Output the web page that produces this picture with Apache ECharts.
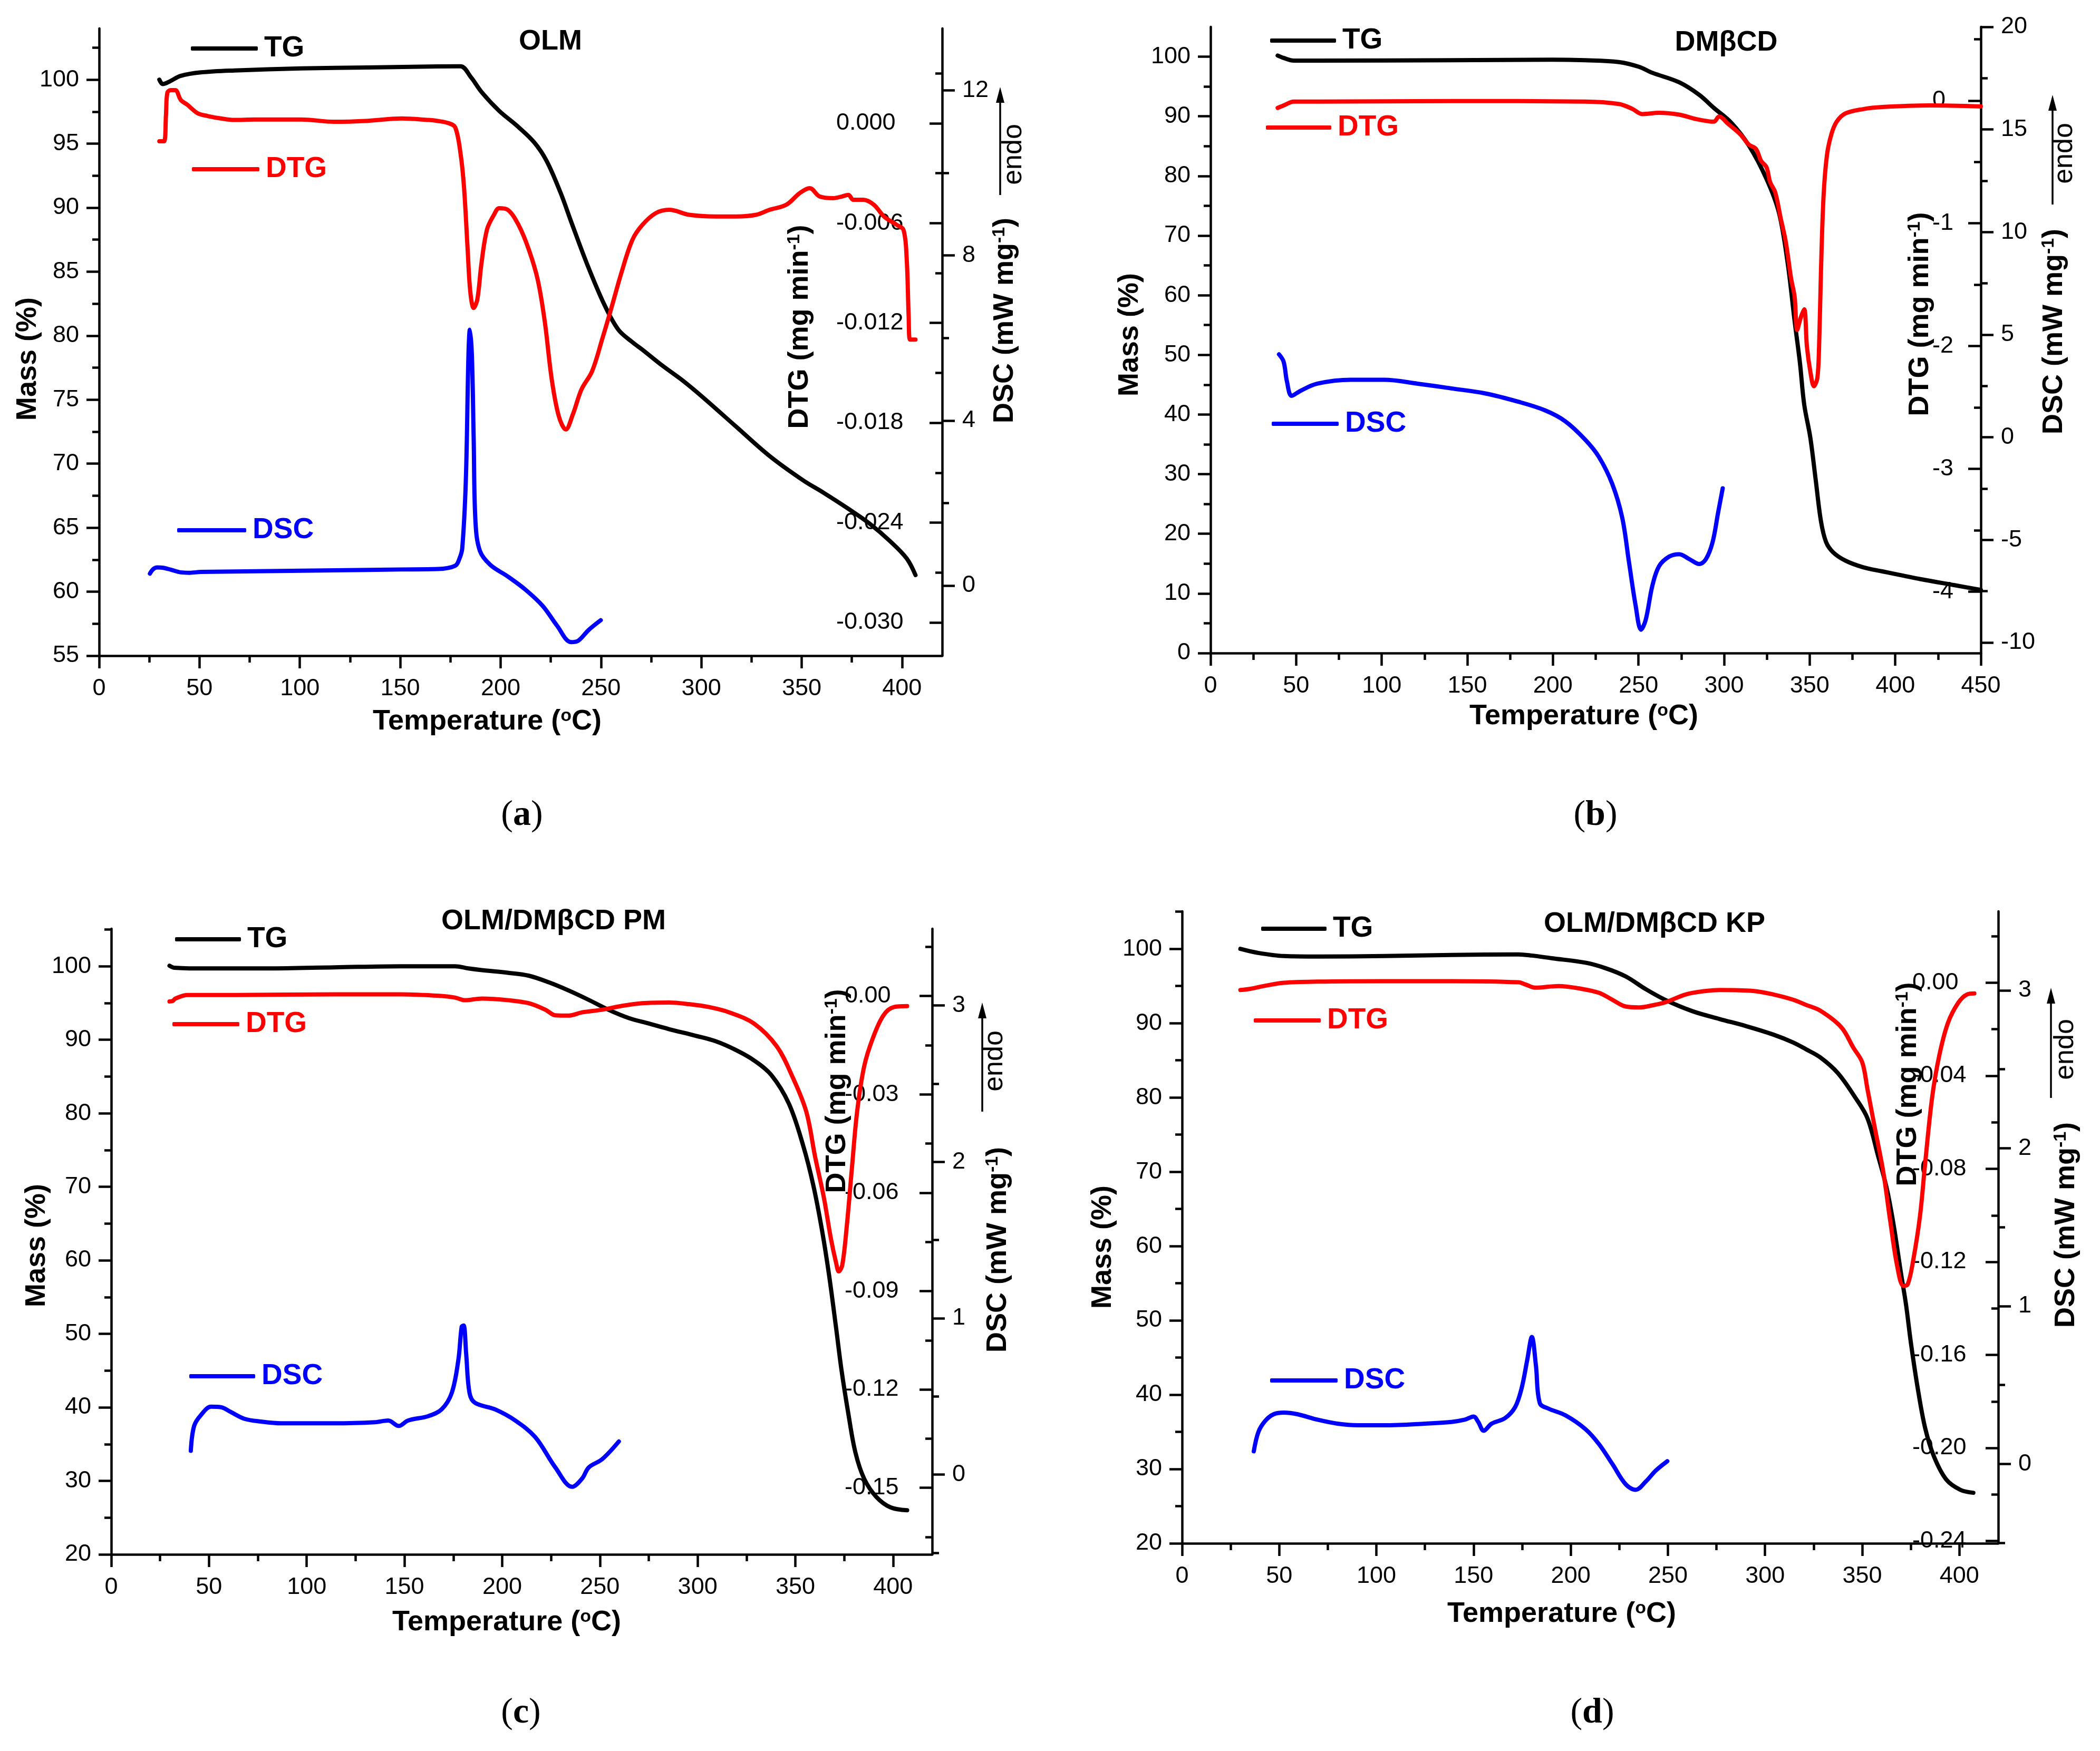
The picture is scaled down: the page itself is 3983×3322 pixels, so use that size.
<!DOCTYPE html>
<html>
<head>
<meta charset="utf-8">
<title>TG / DTG / DSC</title>
<script src="https://cdn.jsdelivr.net/npm/echarts@6/dist/echarts.min.js"></script>
<style>
  html, body { margin: 0; padding: 0; background: #fff; }
  #main { width: 3983px; height: 3322px; }
</style>
</head>
<body>
<div id="main"></div>
<script type="text/javascript">
// ---- (a) OLM : [temperature, value]
var olmTG = [[30,100.0],[31.7,99.66],[35,99.85],[40.7,100.3],[50.7,100.57],[67.3,100.72],[100.7,100.88],[134,100.95],[168.7,101.04],[180,101.05],[185.3,100.18],[190.5,99.04],[199.3,97.56],[208,96.42],[216.7,95.11],[222.9,93.66],[229.8,91.2],[235.1,88.93],[242.9,85.67],[251.7,82.42],[258.7,80.46],[265.7,79.49],[270.7,78.9],[280.7,77.65],[290.7,76.5],[300.7,75.2],[317.3,72.9],[334,70.6],[350.7,68.7],[360.7,67.75],[374,66.4],[384,65.3],[394,63.95],[402.3,62.6],[406.7,61.3]];
var olmDTG = [[30,-0.00108],[32.3,-0.00108],[33.3,0.0005],[34,0.00184],[35.7,0.00199],[38,0.00199],[40.7,0.0014],[44,0.00111],[49,0.00061],[54,0.00044],[60.7,0.00029],[67.3,0.0002],[77.3,0.00023],[100.7,0.00023],[117.3,0.00009],[134,0.00015],[150.7,0.00029],[164,0.0002],[168.7,0.00014],[174,0.00001],[177.4,-0.00024],[180.1,-0.00186],[181.8,-0.00387],[183.6,-0.0076],[184.9,-0.0101],[186.6,-0.0111],[188.4,-0.0106],[190.5,-0.0084],[193.2,-0.0064],[196.7,-0.0055],[199.3,-0.0051],[203.6,-0.0052],[208.9,-0.0061],[214.1,-0.0076],[218.5,-0.0094],[222,-0.0119],[225.5,-0.0154],[229,-0.0176],[232.5,-0.0184],[236,-0.0175],[240.3,-0.016],[245.6,-0.0149],[250.8,-0.0129],[255.2,-0.0111],[260.4,-0.0089],[265.7,-0.007],[270.7,-0.0061],[277.3,-0.0054],[284,-0.0052],[294,-0.0055],[307.3,-0.0056],[317.3,-0.0056],[327.3,-0.0055],[334,-0.0052],[342.3,-0.0049],[349,-0.0042],[354,-0.0039],[359,-0.0044],[365.7,-0.0045],[370,-0.0044],[373.3,-0.0043],[375.7,-0.0046],[380.7,-0.0046],[386,-0.0049],[391,-0.0056],[397.3,-0.0061],[400.7,-0.0064],[402.3,-0.0081],[403.3,-0.0116],[404,-0.013],[406.7,-0.013]];
var olmDSC = [[25.3,0.29],[27,0.4],[29,0.44],[32,0.43],[36,0.38],[40.7,0.32],[45,0.31],[50.7,0.33],[84,0.35],[117.3,0.37],[150.7,0.39],[168.7,0.4],[177.4,0.48],[179.5,0.65],[180.9,0.9],[182.7,2.56],[184,5.59],[184.7,6.2],[185.7,5.59],[186.6,3.56],[187.5,1.54],[189.7,0.84],[194.9,0.5],[203.6,0.22],[212.4,-0.1],[221.1,-0.5],[228.1,-0.97],[235.1,-1.37],[238.6,-1.34],[243.8,-1.08],[249.9,-0.84]];

// ---- (b) DMbCD
var cdTG = [[39.2,100.2],[42.7,99.8],[48.6,99.35],[62.3,99.35],[140.6,99.4],[199.3,99.5],[218.9,99.4],[238.5,99.1],[250.3,98.3],[258.1,97.3],[273.8,95.7],[285.5,93.6],[294.1,91.4],[304.3,88.9],[314.5,85.1],[324.8,79.5],[332,73.9],[337.1,65.5],[341.2,55.7],[344.3,48.7],[346.8,41.7],[350.4,36.1],[353.5,29.1],[356.6,22.1],[359.6,18.6],[363.7,16.9],[370.9,15.5],[381.1,14.4],[392.4,13.7],[414.8,12.4],[434.3,11.4],[450,10.6]];
var cdDTG = [[39.2,-0.06],[42.7,-0.04],[48.6,-0.008],[62.3,-0.008],[140.6,-0.004],[218.9,-0.008],[238.5,-0.028],[246.3,-0.067],[252.2,-0.11],[262,-0.1],[273.8,-0.115],[283.6,-0.151],[291.4,-0.17],[294.1,-0.172],[297.1,-0.13],[302.3,-0.189],[309.4,-0.274],[314.5,-0.359],[318.6,-0.393],[321.7,-0.493],[324.8,-0.544],[326.9,-0.664],[329.9,-0.749],[333,-0.953],[336.1,-1.155],[339.1,-1.445],[341.2,-1.597],[342.7,-1.868],[344.8,-1.767],[346.8,-1.7],[348.4,-2.004],[350.4,-2.208],[352.5,-2.327],[354.5,-2.259],[355.5,-2.004],[356.6,-1.394],[358.1,-0.783],[360.1,-0.444],[362.7,-0.274],[365.8,-0.172],[370.9,-0.105],[381.1,-0.07],[392.4,-0.053],[420,-0.04],[450,-0.048]];
var cdDSC = [[40,4.04],[42.7,3.68],[44.6,2.73],[47.4,2.02],[52.5,2.26],[62.3,2.61],[81.9,2.8],[101.4,2.8],[121,2.61],[140.6,2.38],[160.2,2.14],[179.8,1.73],[195.4,1.31],[207.2,0.78],[218.9,-0.12],[226.8,-0.95],[234.6,-2.26],[240.5,-3.92],[244.4,-6.06],[248.3,-8.19],[251.5,-9.38],[254.2,-8.91],[258.1,-7.24],[262,-6.29],[267.9,-5.82],[273.8,-5.7],[279.7,-5.94],[285.5,-6.18],[289.4,-5.94],[293.3,-5.11],[296.5,-3.68],[299.2,-2.49]];

// ---- (c) OLM/DMbCD PM
var pmTG = [[29.8,100.07],[32.2,99.8],[45.9,99.7],[80.1,99.7],[114.3,99.85],[148.5,100],[175.9,100],[182.7,99.7],[189.6,99.47],[203.3,99.1],[213.5,98.72],[223.8,97.82],[234,96.7],[244.3,95.42],[254.5,94.07],[264.8,92.95],[275.1,92.2],[285.4,91.44],[299,90.54],[309.3,89.79],[319.6,88.6],[328.8,87.2],[337.7,85.2],[346.7,81.3],[353.9,75.7],[359.2,70.2],[363.7,64.0],[367.3,57.9],[370.9,50.7],[373.6,45.1],[377.2,39.0],[380.7,33.9],[385.2,30.3],[391.5,27.8],[398.7,26.4],[407.2,26.0]];
var pmDTG = [[29.8,-0.0017],[31.5,-0.0015],[32.8,-0.0008],[39,0.0003],[63,0.0003],[114.3,0.0005],[148.5,0.0005],[169,0],[175.9,-0.0005],[181,-0.0013],[189.6,-0.0008],[203.3,-0.0013],[213.5,-0.0022],[222.1,-0.0042],[227.2,-0.0059],[234,-0.006],[240.9,-0.005],[251.2,-0.0042],[261.4,-0.003],[271.7,-0.0022],[285.4,-0.002],[295.6,-0.0025],[305.9,-0.0034],[316.2,-0.005],[328.8,-0.0084],[340.4,-0.0153],[348.5,-0.0246],[355.6,-0.0353],[360.1,-0.049],[364.6,-0.0615],[368.2,-0.074],[370.9,-0.0815],[372.2,-0.084],[374,-0.0821],[376.3,-0.0703],[378.9,-0.0528],[381.6,-0.0353],[385.2,-0.0215],[389.7,-0.0128],[395.1,-0.0059],[400.4,-0.0034],[407.2,-0.0031]];
var pmDSC = [[40.7,0.152],[42.4,0.311],[45.9,0.381],[51,0.434],[56.1,0.431],[61.2,0.4],[68.1,0.357],[76.6,0.339],[86.9,0.328],[114.3,0.328],[134.8,0.335],[141.7,0.346],[147.1,0.311],[151.9,0.346],[162.2,0.374],[169,0.417],[174.2,0.522],[177.6,0.734],[179.3,0.946],[180.3,0.953],[181.6,0.77],[183.3,0.522],[186.1,0.459],[196.4,0.417],[206.7,0.346],[216.9,0.24],[227.2,0.046],[235.8,-0.078],[240.9,-0.025],[244.3,0.046],[251.2,0.099],[259.7,0.212]];

// ---- (d) OLM/DMbCD KP
var kpTG = [[30,100],[38.6,99.48],[52.4,99.03],[69.7,98.96],[104.1,99.03],[138.6,99.18],[173.1,99.26],[180,99.1],[190.3,98.74],[207.6,98.14],[217.9,97.4],[228.3,96.29],[238.6,94.58],[249,93.09],[262.8,91.6],[276.6,90.56],[290.3,89.6],[304.1,88.48],[314.5,87.4],[321,86.5],[328.4,85.4],[337.4,83.3],[346.4,80.0],[352.7,77.2],[358.1,72.2],[362.6,67.8],[366.2,62.8],[369.8,56.6],[372.5,52.2],[375.2,46.7],[378.8,40.5],[382.4,35.5],[386.9,31.7],[393.2,28.6],[400.5,27.2],[407.2,26.8]];
var kpDTG = [[30,-0.0031],[35.2,-0.0026],[42.1,-0.0014],[52.4,0],[69.7,0.0005],[104.1,0.0007],[138.6,0.0007],[173.1,0.0002],[176.6,-0.0007],[181.7,-0.0021],[193.8,-0.0014],[204.1,-0.0024],[214.5,-0.0043],[221.4,-0.0073],[228.3,-0.0102],[235.2,-0.0106],[242.1,-0.0097],[249,-0.0083],[259.3,-0.005],[269.7,-0.0035],[276.6,-0.0031],[293.8,-0.0035],[304.1,-0.005],[314.5,-0.0073],[321,-0.0095],[328.4,-0.012],[339.2,-0.0191],[345.5,-0.028],[350,-0.0342],[352.7,-0.0457],[356.3,-0.0616],[360.8,-0.0811],[364.4,-0.1023],[368,-0.1218],[371.2,-0.1303],[373.4,-0.1297],[376.1,-0.12],[379.7,-0.1005],[382.4,-0.0775],[386,-0.0492],[389.6,-0.0315],[394.1,-0.0173],[399.5,-0.0085],[404,-0.005],[407.7,-0.0046]];
var kpDSC = [[36.9,0.08],[39.3,0.203],[42.8,0.273],[47.2,0.315],[52.4,0.325],[59.3,0.315],[69.7,0.28],[80,0.255],[90.3,0.245],[104.1,0.245],[124.8,0.255],[138.6,0.266],[145.5,0.28],[150,0.3],[152.4,0.266],[155.2,0.21],[159.3,0.255],[166.2,0.29],[171.4,0.36],[174.8,0.483],[177.6,0.657],[180,0.804],[182.1,0.622],[184.1,0.385],[188.6,0.35],[197.2,0.308],[207.6,0.22],[214.5,0.126],[221.4,0],[228.3,-0.129],[233.4,-0.164],[238.6,-0.112],[243.8,-0.042],[249.7,0.017]];

// ---- tick labels
var tempTicks420 = [0,50,100,150,200,250,300,350,400];
var tempMinor420 = [25,75,125,175,225,275,325,375];
var tempTicks450 = [0,50,100,150,200,250,300,350,400,450];
var tempMinor450 = [25,75,125,175,225,275,325,375,425];

var olmMassTicks = [55,60,65,70,75,80,85,90,95,100];
var olmMassMinor = [57.5,62.5,67.5,72.5,77.5,82.5,87.5,92.5,97.5,102.5];
var olmDtgTicks = [0,-0.006,-0.012,-0.018,-0.024,-0.030];
var olmDtgMinor = [0.003,-0.003,-0.009,-0.015,-0.021,-0.027];
var olmDscTicks = [0,4,8,12];
var olmDscMinor = [2,6,10];

var cdMassTicks = [0,10,20,30,40,50,60,70,80,90,100];
var cdMassMinor = [5,15,25,35,45,55,65,75,85,95];
var cdDtgTicks = [0,-1,-2,-3,-4];
var cdDtgMinor = [0.5,-0.5,-1.5,-2.5,-3.5];
var cdDscTicks = [-10,-5,0,5,10,15,20];
var cdDscMinor = [-7.5,-2.5,2.5,7.5,12.5,17.5];

var mixMassTicks = [20,30,40,50,60,70,80,90,100];
var mixMassMinor = [25,35,45,55,65,75,85,95,105];
var pmDtgTicks = [0,-0.03,-0.06,-0.09,-0.12,-0.15];
var pmDtgMinor = [0.015,-0.015,-0.045,-0.075,-0.105,-0.135,-0.165];
var kpDtgTicks = [0,-0.04,-0.08,-0.12,-0.16,-0.20,-0.24];
var kpDtgMinor = [0.02,-0.02,-0.06,-0.10,-0.14,-0.18,-0.22];
var mixDscTicks = [0,1,2,3];
var mixDscMinor = [-0.5,0.5,1.5,2.5];

var FONT = "'Liberation Sans', Arial, sans-serif";
var SERIF = "'Liberation Serif', 'Times New Roman', serif";
var BLACK = '#000000', RED = '#ff0000', BLUE = '#0000ff';

var panels = [
  { grid: {left: 188, top: 54, width: 1599, height: 1190}, xMax: 420, xTicks: tempTicks420, xMinor: tempMinor420,
    mass: [55, 104], massTicks: olmMassTicks, massMinor: olmMassMinor,
    dtg: [-0.032, 0.0057], dtgTicks: olmDtgTicks, dtgMinor: olmDtgMinor, dtgDigits: 3, dtgMargin: 201,
    dsc: [-1.7, 13.5], dscTicks: olmDscTicks, dscMinor: olmDscMinor,
    tg: olmTG, dtgData: olmDTG, dscData: olmDSC },
  { grid: {left: 2296, top: 51, width: 1461, height: 1188}, xMax: 450, xTicks: tempTicks450, xMinor: tempMinor450,
    mass: [0, 105], massTicks: cdMassTicks, massMinor: cdMassMinor,
    dtg: [-4.5, 0.6], dtgTicks: cdDtgTicks, dtgMinor: cdDtgMinor, dtgDigits: 0, dtgMargin: 92,
    dsc: [-10.52, 20], dscTicks: cdDscTicks, dscMinor: cdDscMinor,
    tg: cdTG, dtgData: cdDTG, dscData: cdDSC },
  { grid: {left: 211, top: 1762, width: 1557, height: 1187}, xMax: 420, xTicks: tempTicks420, xMinor: tempMinor420,
    mass: [20, 105.1], massTicks: mixMassTicks, massMinor: mixMassMinor,
    dtg: [-0.1703, 0.0205], dtgTicks: pmDtgTicks, dtgMinor: pmDtgMinor, dtgDigits: 2, dtgMargin: 166,
    dsc: [-0.51, 3.49], dscTicks: mixDscTicks, dscMinor: mixDscMinor,
    tg: pmTG, dtgData: pmDTG, dscData: pmDSC },
  { grid: {left: 2242, top: 1729, width: 1548, height: 1199}, xMax: 420, xTicks: tempTicks420, xMinor: tempMinor420,
    mass: [20, 105.05], massTicks: mixMassTicks, massMinor: mixMassMinor,
    dtg: [-0.241, 0.0307], dtgTicks: kpDtgTicks, dtgMinor: kpDtgMinor, dtgDigits: 2, dtgMargin: 163,
    dsc: [-0.503, 3.5], dscTicks: mixDscTicks, dscMinor: mixDscMinor,
    tg: kpTG, dtgData: kpDTG, dscData: kpDSC }
];

var axisStroke = {color: BLACK, width: 4.5};

function mainAxis(g, min, max, ticks, o) {
  o = o || {};
  return {
    type: 'value', gridIndex: g, min: min, max: max, position: o.position,
    splitLine: {show: false},
    axisLine: {show: o.line !== false, onZero: false, lineStyle: axisStroke},
    axisTick: {show: true, inside: !!o.inside, length: 24, lineStyle: axisStroke, customValues: ticks},
    axisLabel: {
      show: true, inside: !!o.inside, margin: o.margin || 38, align: o.align,
      color: BLACK, fontSize: 45, fontFamily: FONT, customValues: ticks,
      formatter: o.formatter
    }
  };
}

function minorAxis(g, min, max, ticks, o) {
  o = o || {};
  return {
    type: 'value', gridIndex: g, min: min, max: max, position: o.position,
    splitLine: {show: false},
    axisLine: {show: false, onZero: false},
    axisTick: {show: true, inside: !!o.inside, length: 13, lineStyle: axisStroke, customValues: ticks},
    axisLabel: {show: false}
  };
}

function curve(name, color, g, yIdx, data) {
  return {
    type: 'line', name: name, xAxisIndex: g * 2, yAxisIndex: yIdx, data: data,
    symbol: 'none', smooth: 0.35,
    lineStyle: {color: color, width: 8, cap: 'round', join: 'round'},
    itemStyle: {color: color}
  };
}

var grids = [], xAxes = [], yAxes = [], series = [];
panels.forEach(function (p, g) {
  grids.push(p.grid);
  xAxes.push(mainAxis(g, 0, p.xMax, p.xTicks, {position: 'bottom', margin: 40}));
  xAxes.push(minorAxis(g, 0, p.xMax, p.xMinor, {position: 'bottom'}));
  var digits = p.dtgDigits;
  yAxes.push(mainAxis(g, p.mass[0], p.mass[1], p.massTicks, {position: 'left'}));
  yAxes.push(minorAxis(g, p.mass[0], p.mass[1], p.massMinor, {position: 'left'}));
  yAxes.push(mainAxis(g, p.dtg[0], p.dtg[1], p.dtgTicks, {
    position: 'right', inside: true, align: 'left', margin: p.dtgMargin,
    formatter: function (v) { return v.toFixed(digits); }
  }));
  yAxes.push(minorAxis(g, p.dtg[0], p.dtg[1], p.dtgMinor, {position: 'right', inside: true}));
  yAxes.push(mainAxis(g, p.dsc[0], p.dsc[1], p.dscTicks, {position: 'right', line: false}));
  yAxes.push(minorAxis(g, p.dsc[0], p.dsc[1], p.dscMinor, {position: 'right'}));
  series.push(curve('TG', BLACK, g, g * 6, p.tg));
  series.push(curve('DTG', RED, g, g * 6 + 2, p.dtgData));
  series.push(curve('DSC', BLUE, g, g * 6 + 4, p.dscData));
});

// legend keys, one per line
function key(name, color, left, cy, w) {
  return {
    data: [name], left: left, top: cy - 30, orient: 'horizontal', padding: 0,
    icon: 'roundRect', itemWidth: w, itemHeight: 8, selectedMode: false,
    textStyle: {color: color, fontSize: 55, fontWeight: 'bold', fontFamily: FONT, lineHeight: 60, padding: [0, 0, 0, 7]}
  };
}
var legends = [
  key('TG', BLACK, 362, 92, 127), key('DTG', RED, 364, 321, 128), key('DSC', BLUE, 336, 1006, 131),
  key('TG', BLACK, 2409, 77, 125), key('DTG', RED, 2401, 242, 124), key('DSC', BLUE, 2412, 804, 127),
  key('TG', BLACK, 332, 1782, 125), key('DTG', RED, 327, 1943, 127), key('DSC', BLUE, 359, 2611, 125),
  key('TG', BLACK, 2392, 1762, 124), key('DTG', RED, 2378, 1936, 127), key('DSC', BLUE, 2409, 2619, 128)
];

var richBold = {
  b: {fontSize: 54, fontWeight: 'bold', fontFamily: FONT, fill: BLACK},
  s: {fontSize: 34, fontWeight: 'bold', fontFamily: FONT, fill: BLACK, verticalAlign: 'top'}
};
function label(x, y, text, rot, rich, font) {
  return {
    type: 'text', x: x, y: y, rotation: rot || 0, silent: true,
    style: {
      text: text, rich: rich, font: font || ('bold 54px ' + FONT), fill: BLACK,
      align: 'center', verticalAlign: 'middle', textAlign: 'center', textVerticalAlign: 'middle'
    }
  };
}
var UP = Math.PI / 2;
function endo(xText, yText, xArrow, yTip, yBase) {
  return [
    label(xText, yText, 'endo', UP, null, '52px ' + FONT),
    {type: 'line', silent: true, shape: {x1: xArrow, y1: yBase, x2: xArrow, y2: yTip + 20},
     style: {stroke: BLACK, lineWidth: 3.5}},
    {type: 'polygon', silent: true, shape: {points: [[xArrow, yTip], [xArrow - 8, yTip + 30], [xArrow + 8, yTip + 30]]},
     style: {fill: BLACK}}
  ];
}
var panelRich = {
  p: {fontSize: 68, fontFamily: SERIF, fill: BLACK},
  q: {fontSize: 68, fontWeight: 'bold', fontFamily: SERIF, fill: BLACK}
};

var graphics = [
  // (a)
  label(1044, 79, 'OLM'),
  label(53, 681, '{b|Mass (%)}', UP, richBold),
  label(924, 1369, '{b|Temperature (}{s|o}{b|C)}', 0, richBold),
  label(1517, 620, '{b|DTG (mg min}{s|-1}{b|)}', UP, richBold),
  label(1906, 608, '{b|DSC (mW mg}{s|-1}{b|)}', UP, richBold),
  label(990, 1547, '{p|(}{q|a}{p|)}', 0, panelRich),
  // (b)
  label(3274, 81, 'DM\u03b2CD'),
  label(2143, 635, '{b|Mass (%)}', UP, richBold),
  label(3004, 1359, '{b|Temperature (}{s|o}{b|C)}', 0, richBold),
  label(3642, 596, '{b|DTG (mg min}{s|-1}{b|)}', UP, richBold),
  label(3896, 629, '{b|DSC (mW mg}{s|-1}{b|)}', UP, richBold),
  label(3026, 1547, '{p|(}{q|b}{p|)}', 0, panelRich),
  // (c)
  label(1050, 1748, 'OLM/DM\u03b2CD PM'),
  label(70, 2363, '{b|Mass (%)}', UP, richBold),
  label(961, 3078, '{b|Temperature (}{s|o}{b|C)}', 0, richBold),
  label(1588, 2070, '{b|DTG (mg min}{s|-1}{b|)}', UP, richBold),
  label(1893, 2371, '{b|DSC (mW mg}{s|-1}{b|)}', UP, richBold),
  label(988, 3250, '{p|(}{q|c}{p|)}', 0, panelRich),
  // (d)
  label(3138, 1753, 'OLM/DM\u03b2CD KP'),
  label(2092, 2366, '{b|Mass (%)}', UP, richBold),
  label(2962, 3062, '{b|Temperature (}{s|o}{b|C)}', 0, richBold),
  label(3619, 2057, '{b|DTG (mg min}{s|-1}{b|)}', UP, richBold),
  label(3919, 2324, '{b|DSC (mW mg}{s|-1}{b|)}', UP, richBold),
  label(3020, 3250, '{p|(}{q|d}{p|)}', 0, panelRich)
].concat(
  endo(1923, 293, 1897, 165, 370),
  endo(3916, 291, 3893, 180, 388),
  endo(1887, 2013, 1863, 1902, 2109),
  endo(3918, 1991, 3890, 1874, 2083)
);

var myChart = echarts.init(document.getElementById('main'), null, {renderer: 'canvas'});
var option = {
  animation: false,
  backgroundColor: '#ffffff',
  grid: grids,
  xAxis: xAxes,
  yAxis: yAxes,
  legend: legends,
  graphic: graphics,
  series: series
};
myChart.setOption(option);
</script>
</body>
</html>
